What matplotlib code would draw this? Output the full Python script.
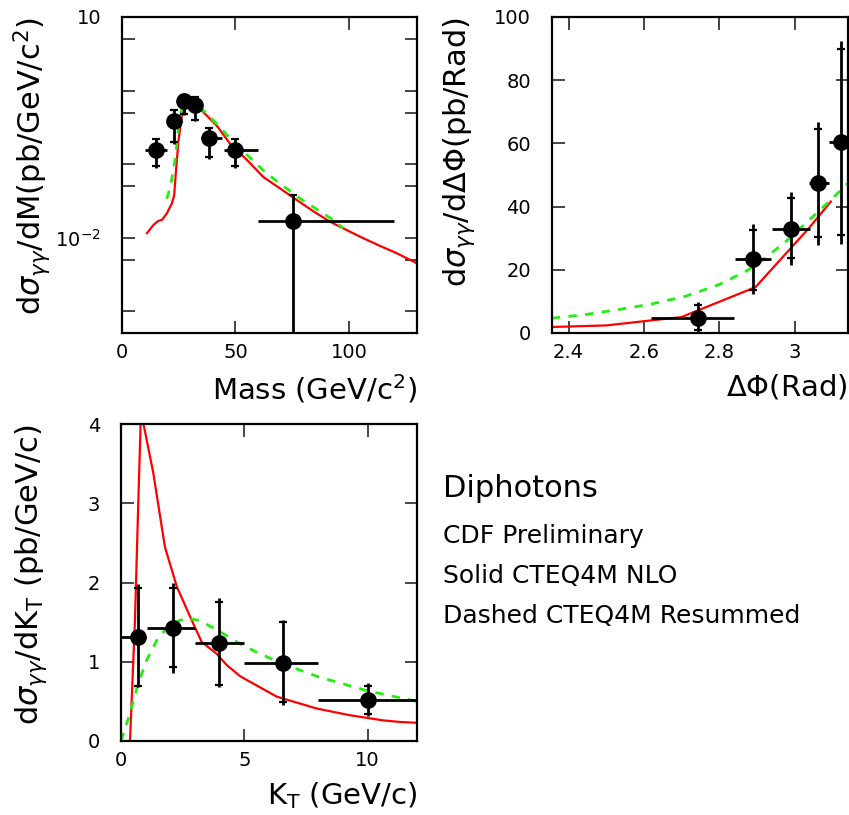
import numpy as np
import matplotlib
matplotlib.use('Agg')
import matplotlib.pyplot as plt
from matplotlib.ticker import FixedLocator, FixedFormatter, NullLocator

plt.rcParams['font.family'] = ['DejaVu Sans']
plt.rcParams['mathtext.fontset'] = 'dejavusans'

# --- Mass spectrum (log y) ---
mass = [15.1, 23.0, 27.4, 32.0, 38.5, 49.8, 75.5]
mass_xlo = [10.0, 20.0, 25.0, 30.0, 35.0, 45.0, 60.0]
mass_xhi = [20.0, 25.0, 30.0, 35.0, 44.0, 60.0, 120.0]
mass_y = [0.158, 0.385, 0.716, 0.63, 0.23, 0.158, 0.0171]
mass_tot_hi = [0.23, 0.566, 0.92, 0.855, 0.32, 0.23, 0.039]
mass_tot_lo = [0.090, 0.19, 0.46, 0.385, 0.119, 0.09, 1e-4]
mass_stat_hi = [0.22, 0.54, 0.88, 0.82, 0.31, 0.22, 0.038]
mass_stat_lo = [0.096, 0.20, 0.48, 0.40, 0.125, 0.096, 1e-4]

m_nlo_x = [11.0, 13.9, 16.1, 17.6, 19.8, 22.0, 23.0, 23.7, 24.9, 26.4, 27.8, 29.3, 31.5,
           34.4, 41.7, 47.6, 55.0, 62.3, 69.6, 77.0, 84.3, 91.6, 98.9, 106.3, 113.6, 121.0, 130.0]
m_nlo_y = [0.0116, 0.0150, 0.0171, 0.0175, 0.0216, 0.0295, 0.038, 0.075, 0.211, 0.46, 0.63, 0.695, 0.66,
           0.566, 0.336, 0.19, 0.115, 0.067, 0.047, 0.0327, 0.023, 0.0166, 0.0128, 0.0099, 0.0078, 0.0062, 0.0045]
m_res_x = [19.7, 21.3, 23.4, 24.9, 26.4, 28.6, 32.2, 35.8, 41.7, 49.1, 63.7, 78.4, 93.1, 97.5]
m_res_y = [0.034, 0.049, 0.113, 0.32, 0.59, 0.73, 0.73, 0.54, 0.355, 0.2, 0.075, 0.0343, 0.0175, 0.0135]

# --- Delta phi ---
phi = [2.743, 2.889, 2.991, 3.062, 3.124]
phi_xlo = [2.618, 2.842, 2.94, 3.037, 3.09]
phi_xhi = [2.839, 2.938, 3.04, 3.09, 3.1416]
phi_y = [4.7, 23.4, 33.0, 47.4, 60.3]
phi_tot_hi = [9.8, 34.4, 44.7, 66.8, 92.3]
phi_tot_lo = [0.3, 12.4, 21.4, 27.7, 28.2]
phi_stat_hi = [9.0, 32.5, 42.6, 64.7, 90.0]
phi_stat_lo = [1.0, 13.5, 23.7, 30.3, 31.0]

p_nlo_x = [2.356, 2.5, 2.7, 2.896, 2.994, 3.038, 3.096]
p_nlo_y = [1.9, 2.4, 5.05, 14.5, 27.4, 33.2, 41.6]
p_res_x = [2.356, 2.443, 2.532, 2.621, 2.710, 2.799, 2.870, 2.905, 2.976, 3.029, 3.096, 3.1416]
p_res_y = [4.7, 5.8, 7.4, 9.2, 11.6, 15.3, 19.5, 22.1, 28.9, 34.7, 42.1, 47.4]

# --- KT ---
kt = [0.70, 2.10, 3.99, 6.58, 10.03]
kt_xlo = [0.0, 1.04, 3.0, 5.0, 8.0]
kt_xhi = [1.0, 3.0, 5.0, 8.0, 12.0]
kt_y = [1.315, 1.42, 1.24, 0.99, 0.52]
kt_tot_hi = [1.98, 2.0, 1.81, 1.53, 0.73]
kt_tot_lo = [0.68, 0.86, 0.68, 0.45, 0.32]
kt_stat_hi = [1.93, 1.93, 1.76, 1.50, 0.70]
kt_stat_lo = [0.70, 0.94, 0.71, 0.49, 0.34]

k_nlo_x = [0.365, 0.567, 0.70, 0.80, 0.90, 1.31, 1.78, 2.26, 2.80, 3.27, 3.88, 4.28, 4.82,
           5.10, 6.31, 7.93, 9.28, 10.63, 11.31, 12.0]
k_nlo_y = [0.0, 1.53, 3.0, 4.05, 4.02, 3.38, 2.45, 1.95, 1.57, 1.25, 1.10, 0.96, 0.82,
           0.77, 0.56, 0.41, 0.325, 0.26, 0.24, 0.23]
k_res_x = [0.0, 0.365, 0.70, 1.04, 1.45, 1.99, 2.66, 3.20, 4.01, 4.69, 5.5, 6.58, 8.0, 10.03, 12.0]
k_res_y = [0.0, 0.35, 0.73, 1.02, 1.27, 1.48, 1.55, 1.52, 1.38, 1.25, 1.12, 0.97, 0.81, 0.63, 0.50]

RED = '#ff0000'
GREEN = '#22ee11'
W, H = 849, 815


def frame(ax):
    for s in ax.spines.values():
        s.set_linewidth(1.6)
    ax.tick_params(which='both', direction='in', top=True, right=True,
                   length=9, width=1.4, color='#444444', labelsize=14)
    ax.tick_params(axis='y', pad=15)
    ax.tick_params(axis='x', pad=7)


def data(ax, x, xlo, xhi, y, tlo, thi, slo, shi):
    x = np.array(x); y = np.array(y)
    xerr = [x - np.array(xlo), np.array(xhi) - x]
    ax.errorbar(x, y, xerr=xerr, yerr=[y - np.array(tlo), np.array(thi) - y],
                fmt='o', color='black', ms=11, elinewidth=2, capsize=0, zorder=5)
    ax.errorbar(x, y, yerr=[y - np.array(slo), np.array(shi) - y], fmt='none',
                ecolor='black', elinewidth=0, capsize=3, capthick=1.6, zorder=5)


def labels(ax, xl, yl, yx):
    ax.set_xlabel(xl, fontsize=21, ha='right', va='top')
    ax.xaxis.set_label_coords(1.0, -0.125)
    ax.set_ylabel(yl, fontsize=22, ha='right', va='bottom')
    ax.yaxis.set_label_coords(yx, 1.0)


fig = plt.figure(figsize=(W / 100, H / 100), dpi=100)
ax1 = fig.add_axes([122 / W, 1 - 333 / H, 295 / W, 316 / H])
ax2 = fig.add_axes([552 / W, 1 - 333 / H, 296 / W, 316 / H])
ax3 = fig.add_axes([121 / W, 1 - 741 / H, 296 / W, 317 / H])

# Mass
ax1.set_yscale('log')
ax1.plot(m_nlo_x, m_nlo_y, color=RED, lw=1.6)
ax1.plot(m_res_x, m_res_y, color=GREEN, lw=2, ls=(0, (3, 3)))
data(ax1, mass, mass_xlo, mass_xhi, mass_y, mass_tot_lo, mass_tot_hi, mass_stat_lo, mass_stat_hi)
ax1.set_xlim(0, 130)
ax1.set_ylim(5.1e-4, 10)
yt = [1e-3, 5e-3, 1e-2, 5e-2, 1e-1, 5e-1, 1, 5, 10]
ax1.yaxis.set_major_locator(FixedLocator(yt))
ax1.yaxis.set_major_formatter(FixedFormatter(['', '', r'$10^{-2}$', '', '', '', '', '', '10']))
ax1.yaxis.set_minor_locator(NullLocator())
ax1.set_xticks([0, 50, 100])
frame(ax1)
labels(ax1, r'Mass (GeV/c$^2$)', r'd$\sigma_{\gamma\gamma}$/dM(pb/GeV/c$^2$)', -0.237)

# Delta phi
ax2.plot(p_nlo_x, p_nlo_y, color=RED, lw=1.6)
ax2.plot(p_res_x, p_res_y, color=GREEN, lw=2, ls=(0, (3, 3)))
data(ax2, phi, phi_xlo, phi_xhi, phi_y, phi_tot_lo, phi_tot_hi, phi_stat_lo, phi_stat_hi)
ax2.set_xlim(3 * np.pi / 4, np.pi)
ax2.set_ylim(0, 100)
ax2.set_xticks([2.4, 2.6, 2.8, 3.0])
ax2.set_xticklabels(['2.4', '2.6', '2.8', '3'])
ax2.set_yticks([0, 20, 40, 60, 80, 100])
frame(ax2)
labels(ax2, r'$\Delta\Phi$(Rad)', r'd$\sigma_{\gamma\gamma}$/d$\Delta\Phi$(pb/Rad)', -0.253)

# KT
ax3.plot(k_nlo_x, k_nlo_y, color=RED, lw=1.6)
ax3.plot(k_res_x, k_res_y, color=GREEN, lw=2, ls=(0, (3, 3)))
data(ax3, kt, kt_xlo, kt_xhi, kt_y, kt_tot_lo, kt_tot_hi, kt_stat_lo, kt_stat_hi)
ax3.set_xlim(0, 12)
ax3.set_ylim(0, 4)
ax3.set_xticks([0, 5, 10])
ax3.set_yticks([0, 1, 2, 3, 4])
frame(ax3)
labels(ax3, r'K$_\mathsf{T}$ (GeV/c)', r'd$\sigma_{\gamma\gamma}$/dK$_\mathsf{T}$ (pb/GeV/c)', -0.243)

fig.text(443 / W, 1 - 497 / H, 'Diphotons', fontsize=22, va='baseline')
fig.text(443 / W, 1 - 543 / H, 'CDF Preliminary', fontsize=18, va='baseline')
fig.text(443 / W, 1 - 583 / H, 'Solid CTEQ4M NLO', fontsize=18, va='baseline')
fig.text(443 / W, 1 - 623 / H, 'Dashed CTEQ4M Resummed', fontsize=18, va='baseline')

fig.savefig('out.png', dpi=100)
